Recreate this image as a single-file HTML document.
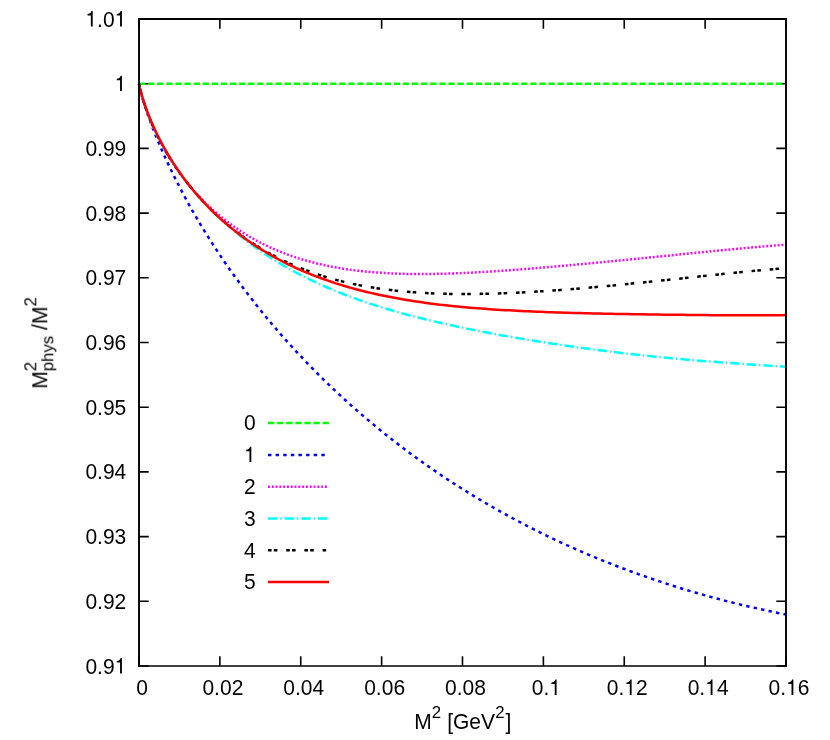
<!DOCTYPE html>
<html><head><meta charset="utf-8"><title>plot</title>
<style>
html,body{margin:0;padding:0;background:#fff;}
body{width:830px;height:740px;overflow:hidden;}
svg{display:block;}
text{font-family:"Liberation Sans",sans-serif;fill:#000;}
.txt{filter:grayscale(1);}
</style></head><body>
<svg width="830" height="740" viewBox="0 0 830 740">
<rect width="830" height="740" fill="#fff"/>
<g stroke="#000" stroke-width="1.6" fill="none">
<path d="M139.0,19.00h9.7 M786.0,19.00h-9.7"/>
<path d="M139.0,83.70h9.7 M786.0,83.70h-9.7"/>
<path d="M139.0,148.40h9.7 M786.0,148.40h-9.7"/>
<path d="M139.0,213.10h9.7 M786.0,213.10h-9.7"/>
<path d="M139.0,277.80h9.7 M786.0,277.80h-9.7"/>
<path d="M139.0,342.50h9.7 M786.0,342.50h-9.7"/>
<path d="M139.0,407.20h9.7 M786.0,407.20h-9.7"/>
<path d="M139.0,471.90h9.7 M786.0,471.90h-9.7"/>
<path d="M139.0,536.60h9.7 M786.0,536.60h-9.7"/>
<path d="M139.0,601.30h9.7 M786.0,601.30h-9.7"/>
<path d="M139.0,666.00h9.7 M786.0,666.00h-9.7"/>
<path d="M139.00,666.0v-9.7 M139.00,19.0v9.7"/>
<path d="M219.88,666.0v-9.7 M219.88,19.0v9.7"/>
<path d="M300.75,666.0v-9.7 M300.75,19.0v9.7"/>
<path d="M381.62,666.0v-9.7 M381.62,19.0v9.7"/>
<path d="M462.50,666.0v-9.7 M462.50,19.0v9.7"/>
<path d="M543.38,666.0v-9.7 M543.38,19.0v9.7"/>
<path d="M624.25,666.0v-9.7 M624.25,19.0v9.7"/>
<path d="M705.12,666.0v-9.7 M705.12,19.0v9.7"/>
<path d="M786.00,666.0v-9.7 M786.00,19.0v9.7"/>
</g>
<g fill="none" stroke-width="2.5" stroke-linejoin="round">
<path d="M139.0,83.70H786.0" stroke="#00ff00" stroke-dasharray="6.3,2.8"/>
<path d="M268,423.10H329" stroke="#00ff00" stroke-dasharray="6.3,2.8"/>
<path d="M139.0,83.7 L139.81,87.74 L140.62,91.07 L141.43,94.15 L142.24,97.05 L143.04,99.82 L143.85,102.5 L144.66,105.08 L145.47,107.6 L146.28,110.05 L147.09,112.45 L147.9,114.79 L148.71,117.09 L149.51,119.35 L150.32,121.57 L151.13,123.75 L151.94,125.9 L152.75,128.02 L153.56,130.11 L154.37,132.17 L155.18,134.2 L157.2,139.18 L161.15,148.52 L165.11,157.41 L169.06,165.93 L173.02,174.13 L176.97,182.03 L180.93,189.68 L184.88,197.1 L188.83,204.3 L192.79,211.31 L196.74,218.14 L200.7,224.79 L204.65,231.29 L208.61,237.64 L212.56,243.85 L216.52,249.93 L220.47,255.88 L224.43,261.71 L228.38,267.43 L232.34,273.04 L236.29,278.54 L240.25,283.94 L244.2,289.25 L248.16,294.46 L252.11,299.59 L256.07,304.62 L260.02,309.58 L263.97,314.45 L267.93,319.25 L271.88,323.97 L275.84,328.61 L279.79,333.19 L283.75,337.7 L287.7,342.13 L291.66,346.51 L295.61,350.82 L299.57,355.06 L303.52,359.25 L307.48,363.38 L311.43,367.44 L315.39,371.46 L319.34,375.41 L323.3,379.31 L327.25,383.16 L331.21,386.96 L335.16,390.71 L339.11,394.41 L343.07,398.05 L347.02,401.66 L350.98,405.21 L354.93,408.72 L358.89,412.18 L362.84,415.6 L366.8,418.97 L370.75,422.3 L374.71,425.59 L378.66,428.84 L382.62,432.05 L386.57,435.22 L390.53,438.34 L394.48,441.43 L398.44,444.48 L402.39,447.5 L406.35,450.47 L410.3,453.41 L414.25,456.32 L418.21,459.19 L422.16,462.02 L426.12,464.82 L430.07,467.58 L434.03,470.31 L437.98,473.01 L441.94,475.68 L445.89,478.31 L449.85,480.91 L453.8,483.48 L457.76,486.02 L461.71,488.53 L465.67,491.01 L469.62,493.46 L473.58,495.88 L477.53,498.27 L481.49,500.63 L485.44,502.96 L489.39,505.26 L493.35,507.54 L497.3,509.79 L501.26,512.01 L505.21,514.21 L509.17,516.37 L513.12,518.52 L517.08,520.63 L521.03,522.72 L524.99,524.79 L528.94,526.82 L532.9,528.84 L536.85,530.83 L540.81,532.79 L544.76,534.73 L548.72,536.65 L552.67,538.54 L556.63,540.41 L560.58,542.26 L564.53,544.08 L568.49,545.88 L572.44,547.66 L576.4,549.41 L580.35,551.14 L584.31,552.85 L588.26,554.54 L592.22,556.21 L596.17,557.85 L600.13,559.47 L604.08,561.08 L608.04,562.66 L611.99,564.22 L615.95,565.76 L619.9,567.28 L623.86,568.78 L627.81,570.25 L631.77,571.71 L635.72,573.15 L639.67,574.57 L643.63,575.97 L647.58,577.35 L651.54,578.71 L655.49,580.06 L659.45,581.38 L663.4,582.68 L667.36,583.97 L671.31,585.24 L675.27,586.49 L679.22,587.72 L683.18,588.93 L687.13,590.13 L691.09,591.3 L695.04,592.46 L699.0,593.61 L702.95,594.73 L706.91,595.84 L710.86,596.93 L714.81,598.0 L718.77,599.06 L722.72,600.1 L726.68,601.12 L730.63,602.13 L734.59,603.11 L738.54,604.09 L742.5,605.04 L746.45,605.99 L750.41,606.91 L754.36,607.82 L758.32,608.71 L762.27,609.59 L766.23,610.45 L770.18,611.3 L774.14,612.13 L778.09,612.94 L782.05,613.74 L786.0,614.53" stroke="#0000ff" stroke-dasharray="3.4,4.22"/>
<path d="M268,454.90H325.2" stroke="#0000ff" stroke-dasharray="3.4,4.22"/>
<path d="M139.0,83.7 L139.81,87.78 L140.62,91.16 L141.43,94.24 L142.24,97.13 L143.04,99.87 L143.85,102.49 L144.66,104.99 L145.47,107.41 L146.28,109.74 L147.09,111.99 L147.9,114.18 L148.71,116.3 L149.51,118.37 L150.32,120.39 L151.13,122.35 L151.94,124.27 L152.75,126.14 L153.56,127.98 L154.37,129.77 L155.18,131.53 L157.2,135.77 L161.15,143.52 L165.11,150.67 L169.06,157.3 L173.02,163.5 L176.97,169.31 L180.93,174.78 L184.88,179.95 L188.83,184.84 L192.79,189.48 L196.74,193.9 L200.7,198.1 L204.65,202.09 L208.61,205.91 L212.56,209.55 L216.52,213.02 L220.47,216.34 L224.43,219.51 L228.38,222.54 L232.34,225.43 L236.29,228.2 L240.25,230.84 L244.2,233.37 L248.16,235.78 L252.11,238.09 L256.07,240.29 L260.02,242.39 L263.97,244.4 L267.93,246.31 L271.88,248.13 L275.84,249.86 L279.79,251.52 L283.75,253.09 L287.7,254.58 L291.66,256.0 L295.61,257.34 L299.57,258.62 L303.52,259.83 L307.48,260.97 L311.43,262.05 L315.39,263.07 L319.34,264.03 L323.3,264.94 L327.25,265.79 L331.21,266.58 L335.16,267.33 L339.11,268.03 L343.07,268.68 L347.02,269.28 L350.98,269.84 L354.93,270.36 L358.89,270.83 L362.84,271.27 L366.8,271.67 L370.75,272.03 L374.71,272.36 L378.66,272.66 L382.62,272.92 L386.57,273.15 L390.53,273.35 L394.48,273.53 L398.44,273.67 L402.39,273.79 L406.35,273.89 L410.3,273.96 L414.25,274.0 L418.21,274.03 L422.16,274.03 L426.12,274.01 L430.07,273.98 L434.03,273.92 L437.98,273.85 L441.94,273.76 L445.89,273.65 L449.85,273.53 L453.8,273.39 L457.76,273.24 L461.71,273.08 L465.67,272.9 L469.62,272.71 L473.58,272.51 L477.53,272.3 L481.49,272.07 L485.44,271.84 L489.39,271.6 L493.35,271.35 L497.3,271.09 L501.26,270.82 L505.21,270.54 L509.17,270.26 L513.12,269.97 L517.08,269.67 L521.03,269.37 L524.99,269.06 L528.94,268.74 L532.9,268.42 L536.85,268.1 L540.81,267.77 L544.76,267.43 L548.72,267.09 L552.67,266.75 L556.63,266.4 L560.58,266.05 L564.53,265.7 L568.49,265.34 L572.44,264.98 L576.4,264.61 L580.35,264.24 L584.31,263.87 L588.26,263.5 L592.22,263.13 L596.17,262.75 L600.13,262.37 L604.08,261.99 L608.04,261.61 L611.99,261.22 L615.95,260.83 L619.9,260.45 L623.86,260.06 L627.81,259.66 L631.77,259.27 L635.72,258.88 L639.67,258.48 L643.63,258.09 L647.58,257.69 L651.54,257.29 L655.49,256.9 L659.45,256.5 L663.4,256.1 L667.36,255.7 L671.31,255.3 L675.27,254.9 L679.22,254.5 L683.18,254.11 L687.13,253.71 L691.09,253.31 L695.04,252.92 L699.0,252.52 L702.95,252.13 L706.91,251.74 L710.86,251.35 L714.81,250.96 L718.77,250.57 L722.72,250.19 L726.68,249.81 L730.63,249.43 L734.59,249.05 L738.54,248.68 L742.5,248.32 L746.45,247.95 L750.41,247.6 L754.36,247.24 L758.32,246.9 L762.27,246.55 L766.23,246.22 L770.18,245.89 L774.14,245.57 L778.09,245.25 L782.05,244.95 L786.0,244.65" stroke="#ff00ff" stroke-dasharray="1.9,1.9"/>
<path d="M268,486.70H327.2" stroke="#ff00ff" stroke-dasharray="1.9,1.9"/>
<path d="M139.0,83.7 L139.81,87.8 L140.62,91.2 L141.43,94.31 L142.24,97.22 L143.04,99.97 L143.85,102.58 L144.66,105.09 L145.47,107.5 L146.28,109.83 L147.09,112.07 L147.9,114.25 L148.71,116.36 L149.51,118.41 L150.32,120.41 L151.13,122.36 L151.94,124.25 L152.75,126.11 L153.56,127.92 L154.37,129.7 L155.18,131.43 L157.2,135.62 L161.15,143.29 L165.11,150.36 L169.06,156.96 L173.02,163.14 L176.97,168.98 L180.93,174.52 L184.88,179.8 L188.83,184.84 L192.79,189.67 L196.74,194.3 L200.7,198.76 L204.65,203.05 L208.61,207.2 L212.56,211.2 L216.52,215.07 L220.47,218.81 L224.43,222.44 L228.38,225.95 L232.34,229.36 L236.29,232.66 L240.25,235.87 L244.2,238.98 L248.16,242.0 L252.11,244.94 L256.07,247.79 L260.02,250.55 L263.97,253.24 L267.93,255.86 L271.88,258.4 L275.84,260.87 L279.79,263.27 L283.75,265.61 L287.7,267.88 L291.66,270.09 L295.61,272.24 L299.57,274.33 L303.52,276.36 L307.48,278.34 L311.43,280.27 L315.39,282.14 L319.34,283.97 L323.3,285.75 L327.25,287.48 L331.21,289.16 L335.16,290.81 L339.11,292.41 L343.07,293.97 L347.02,295.49 L350.98,296.97 L354.93,298.42 L358.89,299.83 L362.84,301.21 L366.8,302.55 L370.75,303.86 L374.71,305.15 L378.66,306.4 L382.62,307.62 L386.57,308.82 L390.53,309.99 L394.48,311.14 L398.44,312.26 L402.39,313.35 L406.35,314.43 L410.3,315.48 L414.25,316.51 L418.21,317.52 L422.16,318.51 L426.12,319.49 L430.07,320.44 L434.03,321.38 L437.98,322.3 L441.94,323.21 L445.89,324.09 L449.85,324.97 L453.8,325.83 L457.76,326.67 L461.71,327.51 L465.67,328.32 L469.62,329.13 L473.58,329.93 L477.53,330.71 L481.49,331.48 L485.44,332.24 L489.39,332.99 L493.35,333.73 L497.3,334.46 L501.26,335.17 L505.21,335.88 L509.17,336.58 L513.12,337.27 L517.08,337.95 L521.03,338.62 L524.99,339.29 L528.94,339.94 L532.9,340.59 L536.85,341.23 L540.81,341.86 L544.76,342.48 L548.72,343.09 L552.67,343.7 L556.63,344.29 L560.58,344.88 L564.53,345.46 L568.49,346.04 L572.44,346.6 L576.4,347.16 L580.35,347.71 L584.31,348.25 L588.26,348.79 L592.22,349.31 L596.17,349.83 L600.13,350.34 L604.08,350.85 L608.04,351.34 L611.99,351.83 L615.95,352.31 L619.9,352.78 L623.86,353.25 L627.81,353.7 L631.77,354.15 L635.72,354.59 L639.67,355.03 L643.63,355.45 L647.58,355.87 L651.54,356.28 L655.49,356.68 L659.45,357.08 L663.4,357.46 L667.36,357.84 L671.31,358.21 L675.27,358.58 L679.22,358.94 L683.18,359.29 L687.13,359.63 L691.09,359.97 L695.04,360.3 L699.0,360.63 L702.95,360.94 L706.91,361.26 L710.86,361.56 L714.81,361.86 L718.77,362.16 L722.72,362.45 L726.68,362.74 L730.63,363.02 L734.59,363.3 L738.54,363.57 L742.5,363.85 L746.45,364.12 L750.41,364.38 L754.36,364.65 L758.32,364.91 L762.27,365.18 L766.23,365.44 L770.18,365.71 L774.14,365.97 L778.09,366.24 L782.05,366.51 L786.0,366.79" stroke="#00ffff" stroke-dasharray="9.5,2.8,1.5,2.85"/>
<path d="M268,518.50H328.6" stroke="#00ffff" stroke-dasharray="9.5,2.8,1.5,2.85"/>
<path d="M139.0,83.7 L139.81,87.76 L140.62,91.11 L141.43,94.16 L142.24,97.02 L143.04,99.72 L143.85,102.3 L144.66,104.77 L145.47,107.15 L146.28,109.45 L147.09,111.68 L147.9,113.83 L148.71,115.93 L149.51,117.97 L150.32,119.96 L151.13,121.91 L151.94,123.8 L152.75,125.66 L153.56,127.48 L154.37,129.26 L155.18,131.0 L157.2,135.22 L161.15,142.95 L165.11,150.1 L169.06,156.78 L173.02,163.05 L176.97,168.96 L180.93,174.57 L184.88,179.89 L188.83,184.95 L192.79,189.79 L196.74,194.42 L200.7,198.84 L204.65,203.09 L208.61,207.16 L212.56,211.07 L216.52,214.82 L220.47,218.43 L224.43,221.91 L228.38,225.25 L232.34,228.46 L236.29,231.56 L240.25,234.53 L244.2,237.4 L248.16,240.16 L252.11,242.81 L256.07,245.37 L260.02,247.82 L263.97,250.19 L267.93,252.46 L271.88,254.64 L275.84,256.75 L279.79,258.76 L283.75,260.7 L287.7,262.56 L291.66,264.35 L295.61,266.06 L299.57,267.7 L303.52,269.27 L307.48,270.78 L311.43,272.22 L315.39,273.6 L319.34,274.92 L323.3,276.18 L327.25,277.38 L331.21,278.53 L335.16,279.62 L339.11,280.66 L343.07,281.65 L347.02,282.59 L350.98,283.48 L354.93,284.33 L358.89,285.13 L362.84,285.88 L366.8,286.6 L370.75,287.27 L374.71,287.91 L378.66,288.5 L382.62,289.06 L386.57,289.59 L390.53,290.07 L394.48,290.53 L398.44,290.95 L402.39,291.34 L406.35,291.7 L410.3,292.03 L414.25,292.33 L418.21,292.6 L422.16,292.85 L426.12,293.07 L430.07,293.27 L434.03,293.44 L437.98,293.59 L441.94,293.71 L445.89,293.82 L449.85,293.9 L453.8,293.96 L457.76,294.0 L461.71,294.03 L465.67,294.03 L469.62,294.02 L473.58,293.99 L477.53,293.94 L481.49,293.87 L485.44,293.8 L489.39,293.7 L493.35,293.59 L497.3,293.47 L501.26,293.34 L505.21,293.19 L509.17,293.02 L513.12,292.85 L517.08,292.67 L521.03,292.47 L524.99,292.26 L528.94,292.04 L532.9,291.81 L536.85,291.57 L540.81,291.32 L544.76,291.07 L548.72,290.8 L552.67,290.52 L556.63,290.24 L560.58,289.95 L564.53,289.65 L568.49,289.34 L572.44,289.03 L576.4,288.71 L580.35,288.38 L584.31,288.04 L588.26,287.7 L592.22,287.36 L596.17,287.0 L600.13,286.64 L604.08,286.28 L608.04,285.91 L611.99,285.54 L615.95,285.16 L619.9,284.78 L623.86,284.39 L627.81,284.0 L631.77,283.6 L635.72,283.2 L639.67,282.8 L643.63,282.4 L647.58,281.99 L651.54,281.58 L655.49,281.17 L659.45,280.75 L663.4,280.33 L667.36,279.91 L671.31,279.49 L675.27,279.07 L679.22,278.65 L683.18,278.22 L687.13,277.8 L691.09,277.38 L695.04,276.95 L699.0,276.53 L702.95,276.11 L706.91,275.69 L710.86,275.27 L714.81,274.85 L718.77,274.43 L722.72,274.02 L726.68,273.61 L730.63,273.2 L734.59,272.8 L738.54,272.4 L742.5,272.01 L746.45,271.62 L750.41,271.24 L754.36,270.86 L758.32,270.49 L762.27,270.12 L766.23,269.77 L770.18,269.42 L774.14,269.08 L778.09,268.75 L782.05,268.43 L786.0,268.12" stroke="#000000" stroke-dasharray="3.6,2.2,3.6,8.8"/>
<path d="M268,550.30H326.2" stroke="#000000" stroke-dasharray="3.6,2.2,3.6,8.8"/>
<path d="M139.0,83.7 L139.81,87.7 L140.62,90.97 L141.43,93.94 L142.24,96.72 L143.04,99.36 L143.85,101.87 L144.66,104.29 L145.47,106.62 L146.28,108.88 L147.09,111.06 L147.9,113.19 L148.71,115.26 L149.51,117.28 L150.32,119.26 L151.13,121.19 L151.94,123.07 L152.75,124.92 L153.56,126.73 L154.37,128.51 L155.18,130.25 L157.2,134.48 L161.15,142.26 L165.11,149.49 L169.06,156.26 L173.02,162.62 L176.97,168.62 L180.93,174.31 L184.88,179.71 L188.83,184.86 L192.79,189.76 L196.74,194.45 L200.7,198.93 L204.65,203.22 L208.61,207.34 L212.56,211.29 L216.52,215.09 L220.47,218.74 L224.43,222.25 L228.38,225.63 L232.34,228.88 L236.29,232.02 L240.25,235.04 L244.2,237.95 L248.16,240.77 L252.11,243.48 L256.07,246.09 L260.02,248.62 L263.97,251.06 L267.93,253.41 L271.88,255.68 L275.84,257.88 L279.79,260.0 L283.75,262.04 L287.7,264.02 L291.66,265.93 L295.61,267.78 L299.57,269.56 L303.52,271.28 L307.48,272.94 L311.43,274.55 L315.39,276.1 L319.34,277.59 L323.3,279.04 L327.25,280.43 L331.21,281.78 L335.16,283.08 L339.11,284.34 L343.07,285.55 L347.02,286.72 L350.98,287.84 L354.93,288.93 L358.89,289.98 L362.84,290.99 L366.8,291.96 L370.75,292.9 L374.71,293.8 L378.66,294.68 L382.62,295.51 L386.57,296.32 L390.53,297.1 L394.48,297.85 L398.44,298.57 L402.39,299.26 L406.35,299.93 L410.3,300.57 L414.25,301.19 L418.21,301.78 L422.16,302.35 L426.12,302.89 L430.07,303.42 L434.03,303.92 L437.98,304.41 L441.94,304.87 L445.89,305.32 L449.85,305.74 L453.8,306.15 L457.76,306.54 L461.71,306.92 L465.67,307.28 L469.62,307.63 L473.58,307.96 L477.53,308.27 L481.49,308.58 L485.44,308.87 L489.39,309.15 L493.35,309.41 L497.3,309.67 L501.26,309.91 L505.21,310.14 L509.17,310.37 L513.12,310.58 L517.08,310.78 L521.03,310.98 L524.99,311.17 L528.94,311.34 L532.9,311.52 L536.85,311.68 L540.81,311.84 L544.76,311.99 L548.72,312.13 L552.67,312.27 L556.63,312.4 L560.58,312.53 L564.53,312.65 L568.49,312.77 L572.44,312.88 L576.4,312.99 L580.35,313.09 L584.31,313.19 L588.26,313.29 L592.22,313.38 L596.17,313.47 L600.13,313.56 L604.08,313.64 L608.04,313.72 L611.99,313.8 L615.95,313.88 L619.9,313.95 L623.86,314.02 L627.81,314.09 L631.77,314.16 L635.72,314.22 L639.67,314.29 L643.63,314.35 L647.58,314.41 L651.54,314.47 L655.49,314.52 L659.45,314.58 L663.4,314.63 L667.36,314.68 L671.31,314.73 L675.27,314.78 L679.22,314.83 L683.18,314.87 L687.13,314.91 L691.09,314.96 L695.04,315.0 L699.0,315.03 L702.95,315.07 L706.91,315.1 L710.86,315.13 L714.81,315.16 L718.77,315.19 L722.72,315.21 L726.68,315.23 L730.63,315.25 L734.59,315.27 L738.54,315.28 L742.5,315.29 L746.45,315.29 L750.41,315.29 L754.36,315.29 L758.32,315.28 L762.27,315.27 L766.23,315.25 L770.18,315.23 L774.14,315.21 L778.09,315.17 L782.05,315.13 L786.0,315.09" stroke="#ff0000"/>
<path d="M268,582.10H329" stroke="#ff0000"/>
</g>
<g stroke="#000" fill="none" stroke-linecap="square"><path d="M139.0,666.0V19.0H786.0V666.0" stroke-width="1.9"/><path d="M139.0,666.05H786.0" stroke-width="1.5999999999999999"/></g>
<g class="txt">
<path transform="translate(85.41,26.40) scale(0.02101,-0.02164)" d="M259 0V505H102V568C189 573 252 608 288 709H347V0Z"/>
<text transform="translate(97.10,26.50) scale(0.955,1.0)" font-size="22.0">.0</text>
<path transform="translate(114.62,26.40) scale(0.02101,-0.02164)" d="M259 0V505H102V568C189 573 252 608 288 709H347V0Z"/>
<path transform="translate(114.62,91.10) scale(0.02101,-0.02164)" d="M259 0V505H102V568C189 573 252 608 288 709H347V0Z"/>
<text transform="translate(126.30,155.90) scale(0.955,1.0)" font-size="22.0" text-anchor="end">0.99</text>
<text transform="translate(126.30,220.60) scale(0.955,1.0)" font-size="22.0" text-anchor="end">0.98</text>
<text transform="translate(126.30,285.30) scale(0.955,1.0)" font-size="22.0" text-anchor="end">0.97</text>
<text transform="translate(126.30,350.00) scale(0.955,1.0)" font-size="22.0" text-anchor="end">0.96</text>
<text transform="translate(126.30,414.70) scale(0.955,1.0)" font-size="22.0" text-anchor="end">0.95</text>
<text transform="translate(126.30,479.40) scale(0.955,1.0)" font-size="22.0" text-anchor="end">0.94</text>
<text transform="translate(126.30,544.10) scale(0.955,1.0)" font-size="22.0" text-anchor="end">0.93</text>
<text transform="translate(126.30,608.80) scale(0.955,1.0)" font-size="22.0" text-anchor="end">0.92</text>
<text transform="translate(85.41,673.50) scale(0.955,1.0)" font-size="22.0">0.9</text>
<path transform="translate(114.62,673.40) scale(0.02101,-0.02164)" d="M259 0V505H102V568C189 573 252 608 288 709H347V0Z"/>
<text transform="translate(142.00,695.00) scale(0.955,1.0)" font-size="22.0" text-anchor="middle">0</text>
<text transform="translate(222.88,695.00) scale(0.955,1.0)" font-size="22.0" text-anchor="middle">0.02</text>
<text transform="translate(303.75,695.00) scale(0.955,1.0)" font-size="22.0" text-anchor="middle">0.04</text>
<text transform="translate(384.62,695.00) scale(0.955,1.0)" font-size="22.0" text-anchor="middle">0.06</text>
<text transform="translate(465.50,695.00) scale(0.955,1.0)" font-size="22.0" text-anchor="middle">0.08</text>
<text transform="translate(531.77,695.00) scale(0.955,1.0)" font-size="22.0">0.</text>
<path transform="translate(549.30,694.90) scale(0.02101,-0.02164)" d="M259 0V505H102V568C189 573 252 608 288 709H347V0Z"/>
<text transform="translate(606.81,695.00) scale(0.955,1.0)" font-size="22.0">0.</text>
<path transform="translate(624.33,694.90) scale(0.02101,-0.02164)" d="M259 0V505H102V568C189 573 252 608 288 709H347V0Z"/>
<text transform="translate(636.01,695.00) scale(0.955,1.0)" font-size="22.0">2</text>
<text transform="translate(687.68,695.00) scale(0.955,1.0)" font-size="22.0">0.</text>
<path transform="translate(705.20,694.90) scale(0.02101,-0.02164)" d="M259 0V505H102V568C189 573 252 608 288 709H347V0Z"/>
<text transform="translate(716.89,695.00) scale(0.955,1.0)" font-size="22.0">4</text>
<text transform="translate(768.56,695.00) scale(0.955,1.0)" font-size="22.0">0.</text>
<path transform="translate(786.08,694.90) scale(0.02101,-0.02164)" d="M259 0V505H102V568C189 573 252 608 288 709H347V0Z"/>
<text transform="translate(797.76,695.00) scale(0.955,1.0)" font-size="22.0">6</text>
<text transform="translate(255.70,430.40) scale(0.955,1.0)" font-size="22.0" text-anchor="end">0</text>
<path transform="translate(244.02,462.10) scale(0.02101,-0.02164)" d="M259 0V505H102V568C189 573 252 608 288 709H347V0Z"/>
<text transform="translate(255.70,494.00) scale(0.955,1.0)" font-size="22.0" text-anchor="end">2</text>
<text transform="translate(255.70,525.80) scale(0.955,1.0)" font-size="22.0" text-anchor="end">3</text>
<text transform="translate(255.70,557.60) scale(0.955,1.0)" font-size="22.0" text-anchor="end">4</text>
<text transform="translate(255.70,589.40) scale(0.955,1.0)" font-size="22.0" text-anchor="end">5</text>
<text transform="translate(414.20,728.70) scale(0.955,1.0)" font-size="22.0">M</text>
<text transform="translate(431.70,718.10) scale(0.9922,1.0)" font-size="16.94">2</text>
<text transform="translate(447.19,728.70) scale(0.955,1.0)" font-size="22.0">[GeV</text>
<text transform="translate(495.17,718.10) scale(0.9922,1.0)" font-size="16.94">2</text>
<text transform="translate(505.41,728.70) scale(0.955,1.0)" font-size="22.0">]</text>
<g transform="translate(47.3,388.7) rotate(-90)">
<text transform="translate(0.00,0.00) scale(0.955,1.0)" font-size="22.0">M</text>
<text transform="translate(17.50,-10.70) scale(0.9922,1.0)" font-size="16.94">2</text>
<text transform="translate(17.50,5.80) scale(0.9922,1.0)" font-size="16.94">phys</text>
<text transform="translate(58.84,0.00) scale(0.955,1.0)" font-size="22.0">/M</text>
<text transform="translate(82.18,-10.70) scale(0.9922,1.0)" font-size="16.94">2</text>
</g>
</g>
</svg>
</body></html>
